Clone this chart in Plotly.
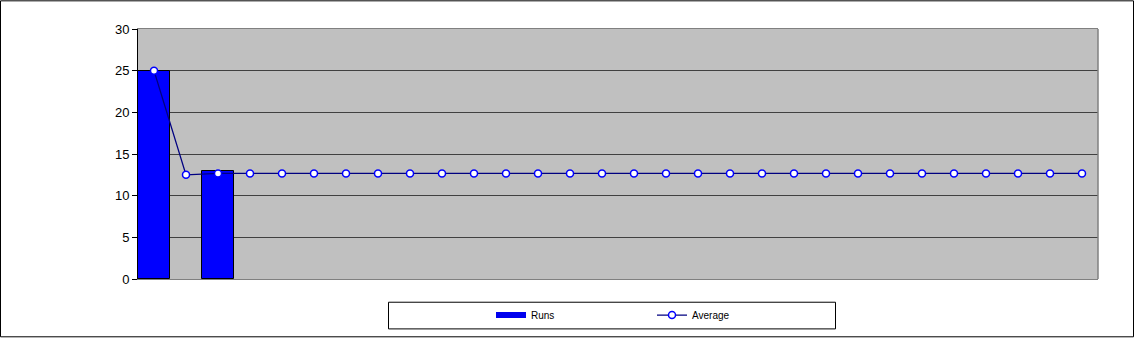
import plotly.graph_objects as go

categories = [str(i) for i in range(1, 31)]
runs = [25, None, 13] + [None] * 27
average = [25, 12.5] + [12.67] * 28
y_ticks = [0, 5, 10, 15, 20, 25, 30]

fig = go.Figure()
fig.add_trace(go.Bar(
    x=categories, y=runs, name="Runs", showlegend=False,
    marker=dict(color="#0000FF", line=dict(color="#000000", width=1)),
))
# legend proxy for the bar series (flat rectangle swatch)
fig.add_trace(go.Scatter(
    x=[None], y=[None], name="Runs", mode="lines",
    line=dict(color="#0000EE", width=6),
))
fig.add_trace(go.Scatter(
    x=categories, y=average, name="Average", mode="lines+markers",
    line=dict(color="#000080", width=1.3),
    marker=dict(symbol="circle", size=7, color="#FFFFFF", line=dict(color="#0000FF", width=1.5)),
))

L, R, T, B = 138, 1098, 29, 282
W, H = 1134, 341
pw, ph = R - L, B - T

def px(x):
    return (x - L) / pw

def py(y):
    return (B - y) / ph

fig.update_layout(
    width=W, height=H,
    margin=dict(l=L, r=W - R, t=T, b=H - B, pad=0),
    paper_bgcolor="#FFFFFF",
    plot_bgcolor="#C0C0C0",
    bargap=0,
    font=dict(family="Liberation Sans, Arial, sans-serif", color="#000000"),
    showlegend=True,
    legend=dict(
        orientation="h", x=px(491), y=py(318.5), xanchor="left", yanchor="middle",
        bgcolor="rgba(0,0,0,0)", borderwidth=0,
        font=dict(size=10), entrywidth=116, entrywidthmode="pixels",
    ),
    xaxis=dict(
        type="category", showticklabels=False, ticks="", showgrid=False,
        showline=True, linecolor="#808080", linewidth=1, mirror=True,
        range=[-0.5, 29.5], zeroline=False,
    ),
    yaxis=dict(
        range=[0, 30], tickvals=y_ticks, ticks="outside", ticklen=5, tickcolor="#000000",
        tickfont=dict(size=13), showgrid=True, gridcolor="#404040", gridwidth=1,
        showline=True, linecolor="#000000", linewidth=1, zeroline=False,
    ),
    shapes=[
        dict(type="rect", xref="paper", yref="paper",
             x0=px(0.5), x1=px(W - 0.5), y0=py(H - 0.5), y1=py(0.5),
             line=dict(color="#000000", width=1), fillcolor="rgba(0,0,0,0)", layer="below"),
        dict(type="rect", xref="paper", yref="paper",
             x0=px(388.5), x1=px(835.5), y0=py(332.5), y1=py(305.5),
             line=dict(color="#000000", width=1), fillcolor="rgba(0,0,0,0)"),
        dict(type="line", xref="paper", yref="paper",
             x0=1, x1=1, y0=0, y1=1, line=dict(color="#808080", width=1.5)),
    ],
)

fig.write_html("out.html")
